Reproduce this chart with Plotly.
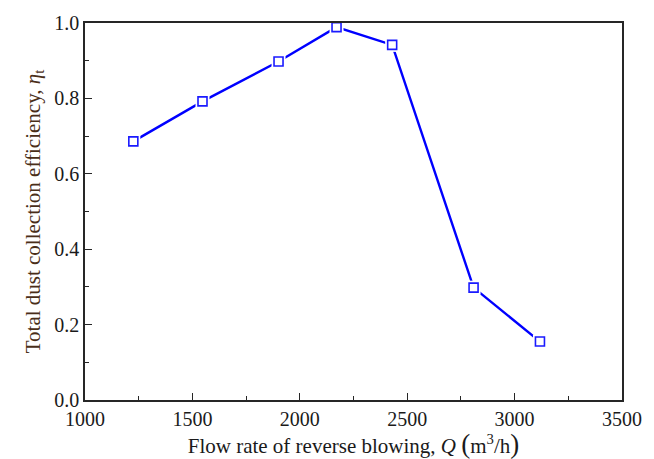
import plotly.graph_objects as go

# Reverse-blowing flow rate (m^3/h) and total dust collection efficiency
flow_rate = [1225, 1547, 1901, 2171, 2430, 2809, 3118]
efficiency = [0.686, 0.792, 0.898, 0.989, 0.942, 0.298, 0.155]

x_ticks = [1000, 1500, 2000, 2500, 3000, 3500]
y_ticks = [0.0, 0.2, 0.4, 0.6, 0.8, 1.0]

FONT = "Liberation Serif, Times New Roman, serif"
AXIS_COLOR = "#262626"
BLUE = "#0000ff"

fig = go.Figure()
# connecting line
fig.add_trace(go.Scatter(
    x=flow_rate, y=efficiency, mode="lines",
    line=dict(color=BLUE, width=2.4),
    showlegend=False, hoverinfo="skip", cliponaxis=False,
))
# white halo so the line stops short of each marker
fig.add_trace(go.Scatter(
    x=flow_rate, y=efficiency, mode="markers",
    marker=dict(symbol="square", size=14, color="white",
                line=dict(width=0)),
    showlegend=False, hoverinfo="skip", cliponaxis=False,
))
# open square markers
fig.add_trace(go.Scatter(
    x=flow_rate, y=efficiency, mode="markers",
    marker=dict(symbol="square", size=9, color="white",
                line=dict(color="#1a1aff", width=1.6)),
    showlegend=False, cliponaxis=False,
))

common_axis = dict(
    showgrid=False,
    zeroline=False,
    showline=True,
    linecolor=AXIS_COLOR,
    linewidth=1.5,
    mirror=True,
    ticks="inside",
    ticklen=7,
    tickwidth=1.2,
    tickcolor=AXIS_COLOR,
    tickfont=dict(family=FONT, size=20, color="#1a1a1a"),
)

fig.update_xaxes(
    **common_axis,
    range=[1000, 3500],
    tickvals=x_ticks,
    ticktext=[str(v) for v in x_ticks],
    minor=dict(dtick=250, ticks="inside", ticklen=4, tickwidth=1.2,
               tickcolor=AXIS_COLOR, showgrid=False),
    title=dict(
        text=("Flow rate of reverse blowing, <i>Q</i> "
              "<span style='font-size:27px'>(</span>m<sup>3</sup>/h"
              "<span style='font-size:27px'>)</span>"),
        font=dict(family=FONT, size=21, color="#1a1a1a"), standoff=2),
)
fig.update_yaxes(
    **common_axis,
    range=[0, 1.0],
    tickvals=y_ticks,
    ticktext=[f"{v:.1f}" for v in y_ticks],
    minor=dict(dtick=0.1, ticks="inside", ticklen=4, tickwidth=1.2,
               tickcolor=AXIS_COLOR, showgrid=False),
    title=dict(text="Total dust collection efficiency, <i>η</i><sub>t</sub>",
               font=dict(family=FONT, size=21, color="#4a2e18"), standoff=8),
)

fig.update_layout(
    width=654,
    height=459,
    margin=dict(l=85, r=23, t=20, b=59),
    paper_bgcolor="white",
    plot_bgcolor="white",
)

fig.write_html("out.html")
